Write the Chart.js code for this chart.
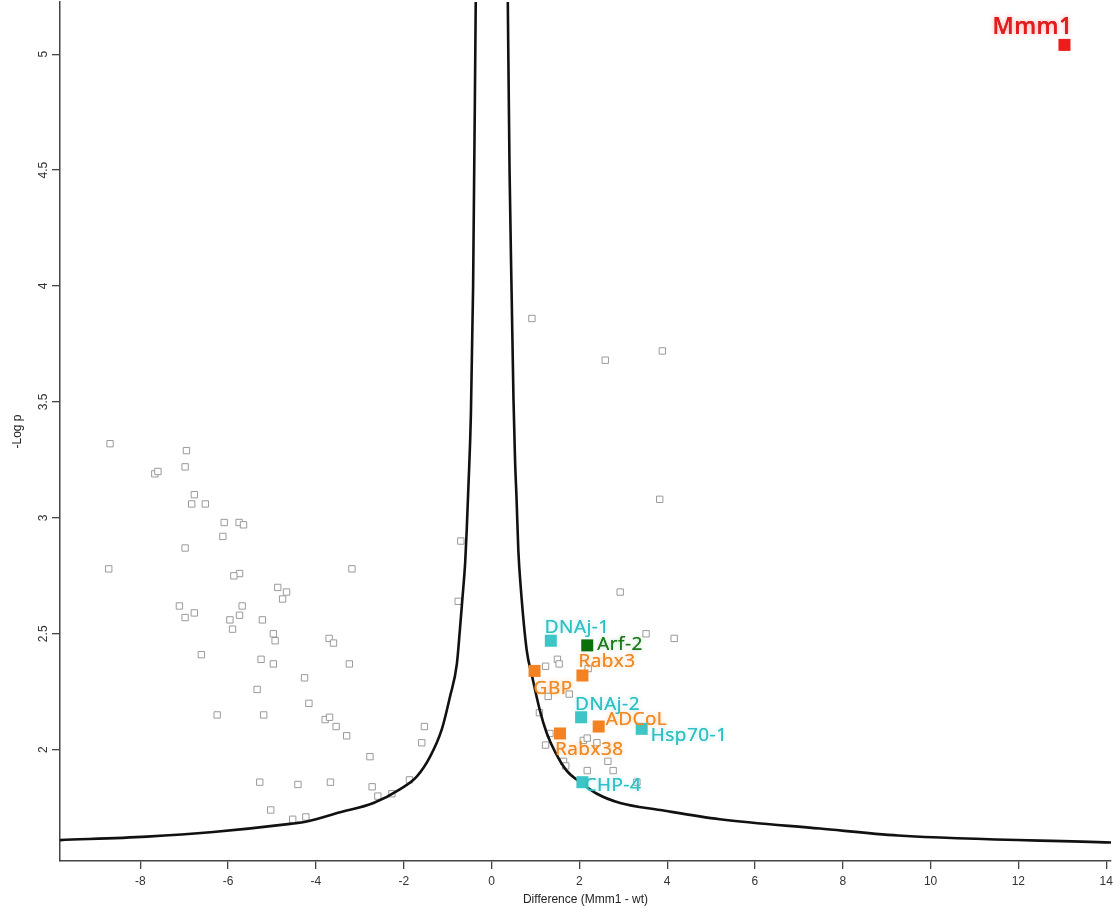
<!DOCTYPE html>
<html>
<head>
<meta charset="utf-8">
<script src="https://cdn.jsdelivr.net/npm/chart.js@4.4.1/dist/chart.umd.min.js"></script>
<style>
  html, body { margin: 0; padding: 0; background: #fff; }
</style>
</head>
<body>
<canvas id="volcano" width="1113" height="907"></canvas>
<script>
// background proteins: Difference (Mmm1 - wt) and -Log p
const otherDiff = [
  -8.69, -6.95, -6.98, -7.67, -7.60, -6.77, -6.83, -6.52, -6.09, -5.75, -5.65, -6.12,
  -6.98, -8.72, -5.74, -5.87, -4.87, -4.67, -4.76, -7.11, -5.68, -6.77, -6.98, -5.74,
  -5.96, -5.22, -5.90, -4.97, -4.93, -6.61, -5.25, -4.97, -5.34, -6.25, -5.19, -5.28,
  -5.03, -3.18, -0.70, -0.76, -3.70, -3.60, -3.24, -4.26, -4.16, -3.79, -3.69, -3.54,
  -3.30, -1.53, -1.59, -2.77, -4.41, -3.67, -2.72, -1.87, -2.59, -2.27, -4.53, -4.23,
  0.92, 2.59, 3.89, 3.83, 2.93, 3.52, 4.16, 1.50, 1.54, 1.23, 2.20, 1.29,
  1.77, 1.09, 1.33, 2.09, 2.18, 2.40, 1.23, 1.64, 1.69, 2.65, 2.18, 2.77, 3.31
];
const otherLogP = [
  3.32, 3.29, 3.22, 3.19, 3.20, 3.10, 3.06, 3.06, 2.98, 2.98, 2.97, 2.92,
  2.87, 2.78, 2.76, 2.75, 2.70, 2.68, 2.65, 2.62, 2.62, 2.59, 2.57, 2.58,
  2.56, 2.56, 2.52, 2.50, 2.47, 2.41, 2.39, 2.37, 2.26, 2.15, 2.15, 1.86,
  1.74, 2.78, 2.90, 2.64, 2.48, 2.46, 2.37, 2.31, 2.20, 2.13, 2.14, 2.10,
  2.06, 2.10, 2.03, 1.97, 1.85, 1.86, 1.84, 1.87, 1.80, 1.81, 1.70, 1.71,
  3.86, 3.68, 3.72, 3.08, 2.68, 2.50, 2.48, 2.39, 2.37, 2.36, 2.35, 2.23,
  2.24, 2.16, 2.07, 2.04, 2.05, 2.03, 2.02, 1.95, 1.93, 1.95, 1.91, 1.91, 1.86
];

// highlighted hits
const hitNames = ['Mmm1', 'DNAj-1', 'Arf-2', 'Rabx3', 'GBP', 'DNAj-2', 'ADCoL', 'Hsp70-1', 'Rabx38', 'CHP-4'];
const hitDiff = [13.05, 1.35, 2.18, 2.07, 0.98, 2.04, 2.44, 3.42, 1.56, 2.07];
const hitLogP = [5.04, 2.47, 2.45, 2.32, 2.34, 2.14, 2.10, 2.09, 2.07, 1.86];
const hitGroup = ['bait', 'hsp', 'arf', 'rab', 'rab', 'hsp', 'rab', 'hsp', 'rab', 'hsp'];

// significance cut-off curve
const cutLeftX = [-9.83, -7.85, -6.34, -4.59, -4.21, -3.45, -2.69, -2.08, -1.70, -1.40, -1.13,
  -0.945, -0.79, -0.72, -0.66, -0.60, -0.565, -0.53, -0.47, -0.42, -0.36];
const cutLeftY = [1.61, 1.625, 1.645, 1.68, 1.69, 1.73, 1.77, 1.83, 1.885, 1.97, 2.09,
  2.23, 2.37, 2.52, 2.66, 2.81, 2.95, 3.12, 3.45, 4.0, 5.23];
const cutRightX = [0.37, 0.41, 0.46, 0.50, 0.535, 0.57, 0.61, 0.665, 0.80, 0.92, 1.10, 1.26,
  1.45, 1.71, 2.02, 2.40, 2.93, 3.84, 5.20, 7.48, 9.26, 14.11];
const cutRightY = [5.23, 4.5, 3.94, 3.51, 3.25, 3.08, 2.86, 2.70, 2.43, 2.32, 2.17, 2.07,
  1.99, 1.91, 1.86, 1.81, 1.77, 1.74, 1.70, 1.66, 1.63, 1.60];

const xTicks = [-8, -6, -4, -2, 0, 2, 4, 6, 8, 10, 12, 14];
const yTicks = [2, 2.5, 3, 3.5, 4, 4.5, 5];

const groupStyle = {
  bait: { fill: '#ee1c1c', text: '#e01e1e', glow: 'rgba(240,60,60,0.5)', font: '600 23px "Open Sans"' },
  hsp:  { fill: '#3ec6c6', text: '#2fc0c4', glow: 'rgba(60,200,200,0.45)', font: '19px "Open Sans"' },
  rab:  { fill: '#f58220', text: '#f08a26', glow: 'rgba(245,140,40,0.45)', font: '19px "Open Sans"' },
  arf:  { fill: '#0a700a', text: '#1a7a1a', glow: 'rgba(20,120,20,0.4)', font: '19px "Open Sans"' }
};
// label placement relative to its marker, in pixels
const labelOffset = {
  'Mmm1': [-72, -11], 'DNAj-1': [-6, -8], 'Arf-2': [10, 5], 'Rabx3': [-4, -9], 'GBP': [-1, 23],
  'DNAj-2': [-6, -7], 'ADCoL': [7, -2], 'Hsp70-1': [9, 12], 'Rabx38': [-5, 22], 'CHP-4': [2, 9]
};

const axisFont = { family: '"Liberation Sans", Arial, sans-serif', size: 12 };

const hitLabels = {
  id: 'hitLabels',
  afterDatasetsDraw(chart) {
    const { ctx, scales: { x, y } } = chart;
    ctx.save();
    ctx.textAlign = 'left';
    ctx.textBaseline = 'alphabetic';
    ctx.letterSpacing = '0.5px';
    hitNames.forEach((name, i) => {
      const g = groupStyle[hitGroup[i]];
      const off = labelOffset[name];
      const px = x.getPixelForValue(hitDiff[i]) + off[0];
      const py = y.getPixelForValue(hitLogP[i]) + off[1];
      ctx.font = g.font;
      ctx.fillStyle = g.text;
      ctx.shadowColor = g.glow;
      ctx.shadowBlur = 4;
      ctx.fillText(name, px, py);
      ctx.shadowBlur = 0;
      ctx.fillText(name, px, py);
    });
    ctx.restore();
  }
};

new Chart(document.getElementById('volcano'), {
  type: 'scatter',
  data: {
    datasets: [
      {
        label: 'hits',
        data: hitDiff.map((d, i) => ({ x: d, y: hitLogP[i] })),
        pointStyle: 'rect',
        pointRadius: 8.5,
        backgroundColor: hitGroup.map(g => groupStyle[g].fill),
        borderColor: hitGroup.map(g => groupStyle[g].fill),
        borderWidth: 0,
        order: 0
      },
      {
        label: 'cutoff left',
        data: cutLeftX.map((d, i) => ({ x: d, y: cutLeftY[i] })),
        showLine: true,
        borderColor: '#111',
        borderWidth: 2.6,
        pointRadius: 0,
        cubicInterpolationMode: 'monotone',
        order: 1
      },
      {
        label: 'cutoff right',
        data: cutRightX.map((d, i) => ({ x: d, y: cutRightY[i] })),
        showLine: true,
        borderColor: '#111',
        borderWidth: 2.6,
        pointRadius: 0,
        cubicInterpolationMode: 'monotone',
        order: 1
      },
      {
        label: 'other',
        data: otherDiff.map((d, i) => ({ x: d, y: otherLogP[i] })),
        pointStyle: 'rect',
        pointRadius: 4.5,
        backgroundColor: '#fff',
        borderColor: '#9a9a9a',
        borderWidth: 1,
        order: 2
      }
    ]
  },
  options: {
    responsive: false,
    animation: false,
    events: [],
    layout: { autoPadding: false, padding: { top: 2, right: 2, left: 0, bottom: 0 } },
    plugins: {
      legend: { display: false },
      tooltip: { enabled: false }
    },
    scales: {
      x: {
        type: 'linear',
        position: 'bottom',
        min: -9.83,
        max: 14.11,
        afterBuildTicks: s => { s.ticks = xTicks.map(v => ({ value: v })); },
        afterFit: s => { s.height = 46; s.paddingLeft = 0; s.paddingRight = 0; },
        grid: { drawOnChartArea: false, drawTicks: true, tickLength: 8, color: '#444', lineWidth: 1.3 },
        border: { display: true, color: '#444', width: 1.5 },
        ticks: { font: axisFont, color: '#333', padding: 5, maxRotation: 0, autoSkip: false, callback: v => String(v) },
        title: { display: true, text: 'Difference (Mmm1 - wt)', font: axisFont, color: '#222', padding: { top: 0, bottom: 0 } }
      },
      y: {
        type: 'linear',
        min: 1.52,
        max: 5.225,
        afterBuildTicks: s => { s.ticks = yTicks.map(v => ({ value: v })); },
        afterFit: s => { s.width = 60; s.paddingTop = 0; s.paddingBottom = 0; },
        grid: { drawOnChartArea: false, drawTicks: true, tickLength: 8, color: '#444', lineWidth: 1.3 },
        border: { display: true, color: '#444', width: 1.5 },
        ticks: { font: axisFont, color: '#333', padding: 0, minRotation: 90, maxRotation: 90, crossAlign: 'center', autoSkip: false, callback: v => String(v) },
        title: { display: true, text: '-Log p', font: axisFont, color: '#222', padding: { top: 10, bottom: 0 } }
      }
    }
  },
  plugins: [hitLabels]
});
</script>
</body>
</html>
